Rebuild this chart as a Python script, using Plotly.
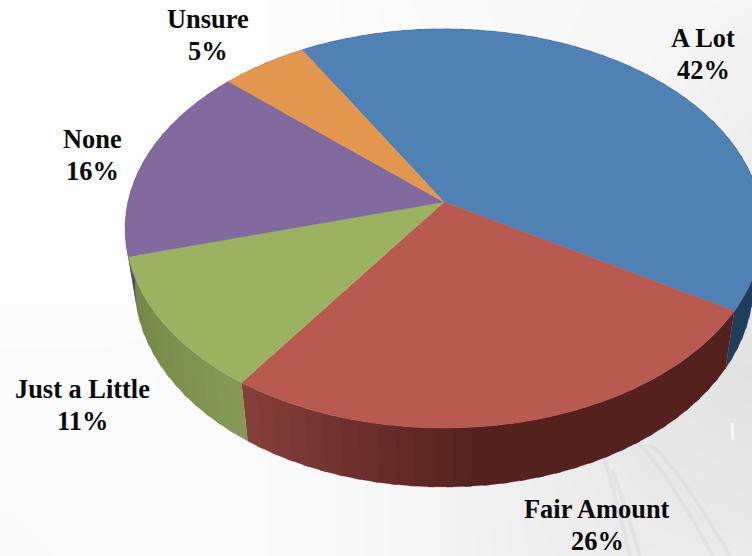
import numpy as np
import plotly.graph_objects as go

# Survey shares, in drawing order clockwise from the first slice
categories = ["A Lot", "Fair Amount", "Just a Little", "None", "Unsure"]
shares = [42, 26, 11, 16, 5]

top_colors = ["#5081b5", "#b85a50", "#9bb360", "#836a9e", "#e3964e"]
side_light = ["#2a4a70", "#883f3a", "#859a55", "#655080", "#b8753a"]
side_dark = ["#1f3857", "#54211f", "#728548", "#54426a", "#9a6030"]

label_pos = {
    "A Lot": (703, 54),
    "Fair Amount": (597, 525),
    "Just a Little": (82, 405),
    "None": (92, 155),
    "Unsure": (208, 35),
}

# Faint backdrop tones (coarse grid, smoothed by the heatmap)
backdrop = [
    [253, 253, 253, 252, 249, 248, 247, 245],
    [253, 253, 253, 252, 250, 248, 245, 240],
    [253, 253, 253, 252, 250, 247, 243, 236],
    [253, 253, 253, 252, 249, 246, 238, 231],
    [251, 251, 250, 249, 246, 238, 229, 226],
    [250, 250, 250, 249, 245, 238, 232, 230],
    [249, 250, 250, 249, 245, 239, 236, 234],
]

# Rail curves in the backdrop: start x, end x, start y, curve exponent
rails = [(603, 630, 455, 0.9), (612, 640, 470, 0.9), (637, 713, 443, 0.8), (650, 730, 445, 0.8)]

W, H = 752, 556
CX, CY = 444, 202      # apex of the pie on the page
A, B = 316, 196        # face radii before the tilt's perspective
K = 0.133              # perspective strength along the depth direction
START_DEG = -30.0      # clockwise from straight up
SIDE_SHRINK = 0.97


def project(theta_deg):
    """Map clockwise angles on the pie's face to page coordinates."""
    t = np.radians(theta_deg)
    u, v = np.sin(t), -np.cos(t)
    s = 1 / (1 - K * v)
    return CX + A * u * s, CY + B * v * s, v


def lower_rim(theta_deg):
    x, y, v = project(theta_deg)
    return CX + (x - CX) * SIDE_SHRINK, y + 55.5 + 3.5 * v


def mix(c1, c2, f):
    a = [int(c1[i:i + 2], 16) for i in (1, 3, 5)]
    b = [int(c2[i:i + 2], 16) for i in (1, 3, 5)]
    return "rgb({},{},{})".format(*[round(p + (q - p) * f) for p, q in zip(a, b)])


fig = go.Figure()

fig.add_trace(go.Heatmap(
    z=backdrop,
    x=np.linspace(0, W, len(backdrop[0])),
    y=np.linspace(0, H, len(backdrop)),
    colorscale=[[0, "rgb(225,225,225)"], [1, "rgb(255,255,255)"]],
    zmin=225, zmax=255, zsmooth="best", showscale=False, hoverinfo="skip",
))

# Soft rails in the lower right corner
for x0, x1, y0, power in rails:
    ts = np.linspace(0, 1, 30)
    fig.add_trace(go.Scatter(
        x=x0 + (x1 - x0) * ts ** power,
        y=y0 + (H - y0) * ts,
        mode="lines", line=dict(color="rgba(212,212,212,0.35)", width=4),
        hoverinfo="skip", showlegend=False,
    ))

# Small signal post beside the track
fig.add_trace(go.Scatter(
    x=[732, 733], y=[423, 440], mode="lines",
    line=dict(color="rgb(246,246,246)", width=3),
    hoverinfo="skip", showlegend=False,
))

edges = START_DEG + np.concatenate([[0], np.cumsum(shares)]) * 360 / sum(shares)

# Rim walls first, then the faces so they cover the far half of the walls
for i in range(len(shares)):
    a0, a1 = edges[i], edges[i + 1]
    n = max(1, int((a1 - a0) / 3))
    bands = np.linspace(a0, a1, n + 1)
    for j in range(n):
        arc = np.linspace(bands[j], min(bands[j + 1] + 1.0, a1), 8)
        xt, yt, _ = project(arc)
        xb, yb = lower_rim(arc)
        mid = (bands[j] + bands[j + 1]) / 2
        if i == 0:
            f = 0.8
        elif i == 1:
            # dark to the right of the front, lighter towards the left end
            f = 1 - float(np.clip(((mid % 360) - 175) / 40, 0, 1))
        elif i == 2:
            f = (mid - a0) / (a1 - a0)
        else:
            f = 0.5
        col = mix(side_light[i], side_dark[i], f)
        fig.add_trace(go.Scatter(
            x=np.concatenate([xt, xb[::-1]]), y=np.concatenate([yt, yb[::-1]]),
            mode="lines", fill="toself", fillcolor=col,
            line=dict(color=col, width=0.3), hoverinfo="skip", showlegend=False,
        ))

for i, name in enumerate(categories):
    arc = np.linspace(edges[i], edges[i + 1], 90)
    x, y, _ = project(arc)
    fig.add_trace(go.Scatter(
        x=np.concatenate([[CX], x, [CX]]), y=np.concatenate([[CY], y, [CY]]),
        mode="lines", fill="toself", fillcolor=top_colors[i],
        line=dict(color=top_colors[i], width=0.5), name=name, showlegend=False,
    ))

# Each label is two separate lines, set a fixed distance apart
LINE_GAP = 32
label_font = dict(family="Liberation Serif", size=26.4, color="#0a0a0a")
for name, value in zip(categories, shares):
    lx, ly = label_pos[name]
    for text, dy in ((name, -LINE_GAP / 2), (f"{value}%", LINE_GAP / 2)):
        fig.add_annotation(
            x=lx, y=ly + dy, text=f"<b>{text}</b>", showarrow=False,
            font=label_font, xanchor="center", yanchor="middle", align="center",
        )

fig.update_layout(
    width=W, height=H, margin=dict(l=0, r=0, t=0, b=0),
    paper_bgcolor="#fdfdfd", plot_bgcolor="#fdfdfd",
    xaxis=dict(range=[0, W], visible=False, fixedrange=True),
    yaxis=dict(range=[H, 0], visible=False, fixedrange=True),
    showlegend=False,
)
fig.write_html("out.html", config={"displayModeBar": False})
